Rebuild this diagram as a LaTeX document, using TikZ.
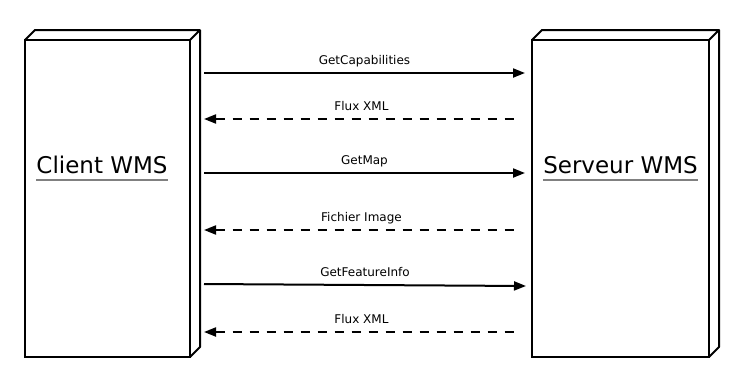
\documentclass[tikz,border=0pt]{standalone}
\usepackage{fontspec}
\setmainfont{DejaVu Sans}
\usetikzlibrary{arrows.meta, calc, positioning}
\tikzset{
  % face avant d'un acteur (boite 3D)
  actor/.style={draw=black, line width=2pt, minimum height=317pt,
    inner sep=0pt, outer sep=0pt, fill=white},
  % aretes de profondeur de la boite
  depth/.style={line width=2pt, line join=round},
  % nom de l'acteur
  actname/.style={font=\fontsize{23}{27}\selectfont, inner sep=0pt, anchor=base},
  % soulignement du nom
  uline/.style={draw=black!50, line width=1.5pt},
  % requete (client vers serveur)
  req/.style={-{Triangle[length=12pt, width=9pt]}, line width=2pt},
  % reponse (serveur vers client)
  rep/.style={{Triangle[length=12pt, width=9pt]}-, line width=2pt,
    dash pattern=on 9pt off 8pt},
  % etiquette d'un message
  msglbl/.style={font=\fontsize{12}{14}\selectfont, inner sep=0pt,
    anchor=base, yshift=8.5pt},
}
\begin{document}
\begin{tikzpicture}[x=1pt, y=-1pt]
  \useasboundingbox (0,0) rectangle (742,389);
  \node[actor, minimum width=165pt] (client) at (107.5,198.5) {};
  \node[actor, minimum width=177pt, right=342pt of client] (serveur) {};
  \foreach \n in {client,serveur}
    \draw[depth] (\n.north west) -- ++(10,-10) -| ($(\n.south east)+(10,-10)$)
      -- (\n.south east) (\n.north east) -- ++(10,-10);
  % noms
  \node[actname] (clientname) at (102,173) {Client WMS};
  \node[actname] (serveurname) at (620.5,173) {Serveur WMS};
  \foreach \n in {clientname,serveurname}
    \draw[uline] ([yshift=-7pt]\n.base west) -- ([yshift=-7pt]\n.base east);
  % messages
  \foreach \yc/\ys/\xs/\txt/\sty [count=\i] in {73/73/525/GetCapabilities/req,
      119/119/519/Flux XML/rep, 173/173/525/GetMap/req,
      230/230/519/Fichier Image/rep, 284/286/526/GetFeatureInfo/req,
      332/332/519/Flux XML/rep}{
    \coordinate (c\i) at (204,\yc);
    \coordinate (s\i) at (\xs,\ys);
    \draw[\sty] (c\i) -- node[msglbl] {\txt} (s\i);
  }
\end{tikzpicture}
\end{document}
